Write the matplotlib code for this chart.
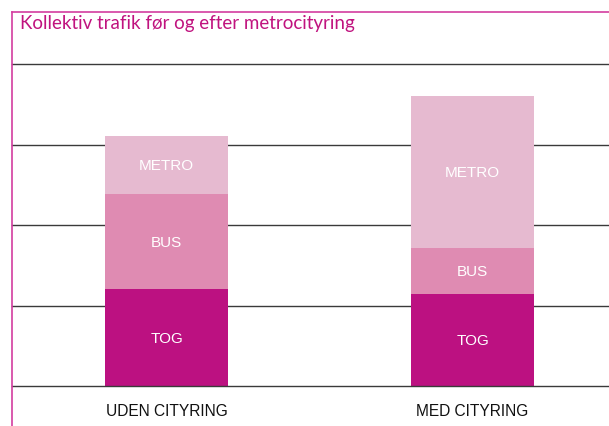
import matplotlib
matplotlib.use("Agg")
import matplotlib.pyplot as plt
import numpy as np
from matplotlib.lines import Line2D

categories = ["UDEN CITYRING", "MED CITYRING"]
segments = ["TOG", "BUS", "METRO"]
tog = [1.20, 1.14]
bus = [1.18, 0.57]
metro = [0.72, 1.89]
title = "Kollektiv trafik før og efter metrocityring"

colors = {"TOG": "#bc1181", "BUS": "#df8bb2", "METRO": "#e6bad0"}
frame_color = "#d33da0"

W, H = 609, 427
fig = plt.figure(figsize=(W / 100, H / 100), dpi=100)

ax = fig.add_axes([12 / W, 1 - 387 / H, 1 - 12 / W, (387 - 65) / H])
ax.set_xlim(-0.505, 1.446)
ax.set_ylim(0, 4)

for y in range(0, 5):
    ax.axhline(y, color="#3a3a3a", lw=1.0, zorder=3 if y == 0 else 1, clip_on=False)

x = np.arange(len(categories))
bottom = np.zeros(len(categories))
for name, vals in zip(segments, [tog, bus, metro]):
    vals = np.array(vals)
    ax.bar(x, vals, width=0.402, bottom=bottom, color=colors[name], zorder=2)
    for xi, b, v in zip(x, bottom, vals):
        ax.text(xi, b + v / 2, name, ha="center", va="center", color="white",
                fontsize=11, family="Liberation Sans", zorder=3)
    bottom += vals

for xi, lab in zip(x, categories):
    ax.text(xi, -0.3, lab, ha="center", va="center", color="#111111",
            fontsize=11.2, family="Liberation Sans")

ax.set_xticks([])
ax.set_yticks([])
for s in ax.spines.values():
    s.set_visible(False)

# frame lines
fig.add_artist(Line2D([11.5 / W, 11.5 / W], [0, 1 - 13 / H], color=frame_color, lw=1.2))
fig.add_artist(Line2D([11.5 / W, 1], [1 - 13 / H, 1 - 13 / H], color=frame_color, lw=1.2))

fig.text(20 / W, 1 - 23 / H, title, color="#c0137f", fontsize=13.5,
         family="Lato", ha="left", va="center")

fig.savefig("out.png", dpi=100)
